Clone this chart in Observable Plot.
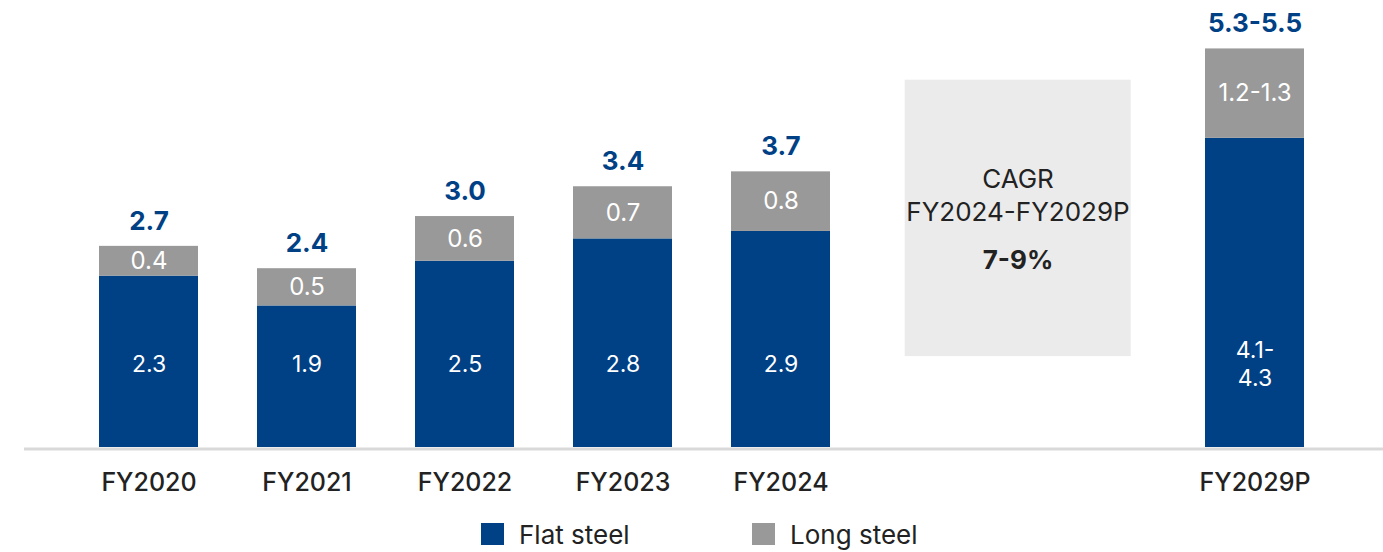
<!DOCTYPE html>
<html>
<head>
<meta charset="utf-8">
<script src="https://cdn.jsdelivr.net/npm/d3@7"></script>
<script src="https://cdn.jsdelivr.net/npm/@observablehq/plot@0.6"></script>
<style>
  html, body { margin: 0; padding: 0; background: #fff; }
  body { width: 1383px; height: 552px; overflow: hidden; font-family: Inter, "Open Sans", sans-serif; }
  #legend { display: flex; justify-content: flex-start; height: 58px; align-items: center; padding-left: 481px; }
  .item { display: flex; align-items: center; gap: 15px; font-size: 26px; color: #222; }
  .item:first-child { width: 271px; }
  .sw { width: 23px; height: 22px; }
</style>
</head>
<body>
<div id="chart"></div>
<div id="legend"></div>
<script>
const categories = ["FY2020", "FY2021", "FY2022", "FY2023", "FY2024", "FY2029P"];
const slots = ["FY2020", "FY2021", "FY2022", "FY2023", "FY2024", "gap1", "gap2", "FY2029P"];
const series = ["Flat steel", "Long steel"];
const seriesColors = ["#004085", "#999999"];
const flatValues = [2.3, 1.9, 2.5, 2.8, 2.9, 4.15];
const longValues = [0.4, 0.5, 0.6, 0.7, 0.8, 1.2];
const flatLabels = ["2.3", "1.9", "2.5", "2.8", "2.9", "4.1-\n4.3"];
const longLabels = ["0.4", "0.5", "0.6", "0.7", "0.8", "1.2-1.3"];
const totalLabels = ["2.7", "2.4", "3.0", "3.4", "3.7", "5.3-5.5"];
const cagrTitle = "CAGR\nFY2024-FY2029P";
const cagrValue = "7-9%";

const rows = [];
categories.forEach((c, i) => {
  rows.push({year: c, series: series[0], value: flatValues[i]});
  rows.push({year: c, series: series[1], value: longValues[i]});
});
const labelRows = categories.map((c, i) => ({
  year: c,
  flat: flatValues[i],
  long: longValues[i],
  total: flatValues[i] + longValues[i],
  flatLabel: flatLabels[i],
  longLabel: longLabels[i],
  totalLabel: totalLabels[i]
}));

const font = "Inter, 'Open Sans', sans-serif";
const blue = seriesColors[0];

const chart = Plot.plot({
  width: 1383,
  height: 505,
  marginLeft: 24,
  marginRight: 0,
  marginTop: 0,
  marginBottom: 58,
  style: {fontFamily: font, background: "#fff", overflow: "visible"},
  x: {domain: slots, paddingInner: 0.375, paddingOuter: 0.477, align: 0.485, axis: null},
  y: {domain: [0, 6], axis: null},
  color: {domain: series, range: seriesColors},
  marks: [
    Plot.barY([{slot: "gap1"}], {x: "slot", y1: () => 1.22, y2: () => 4.93, fill: "#ebebeb", insetLeft: 15.7, insetRight: -142.7}),
    Plot.text([{slot: "gap1"}], {x: "slot", y: () => 3.4, text: () => cagrTitle, dx: 79, fontSize: 26, fill: "#222", lineHeight: 1.27, lineAnchor: "middle"}),
    Plot.text([{slot: "gap1"}], {x: "slot", y: () => 2.51, text: () => cagrValue, dx: 79, fontSize: 26, fontWeight: 700, fill: "#222", lineAnchor: "middle"}),
    Plot.barY(rows, {x: "year", y: "value", fill: "series"}),
    Plot.ruleY([0], {stroke: "#d9d9d9", strokeWidth: 3, dy: 1.5}),
    Plot.text(labelRows, {x: "year", y: () => 1.13, text: "flatLabel", fill: "white", fontSize: 23, lineHeight: 1.22, lineAnchor: "middle"}),
    Plot.text(labelRows, {x: "year", y: d => d.flat + d.long / 2, text: "longLabel", fill: "white", fontSize: 24, lineAnchor: "middle"}),
    Plot.text(labelRows, {x: "year", y: "total", text: "totalLabel", dy: -25, fill: blue, fontSize: 26, fontWeight: 700, lineAnchor: "middle"}),
    Plot.axisX({ticks: categories, tickSize: 0, tickPadding: 35, lineAnchor: "middle", fontSize: 25, fontWeight: 500, fill: "#222", label: null})
  ]
});
document.getElementById("chart").appendChild(chart);

const legend = d3.select("#legend");
series.forEach((s, i) => {
  const it = legend.append("div").attr("class", "item");
  it.append("div").attr("class", "sw").style("background", seriesColors[i]);
  it.append("span").text(s);
});
</script>
</body>
</html>
